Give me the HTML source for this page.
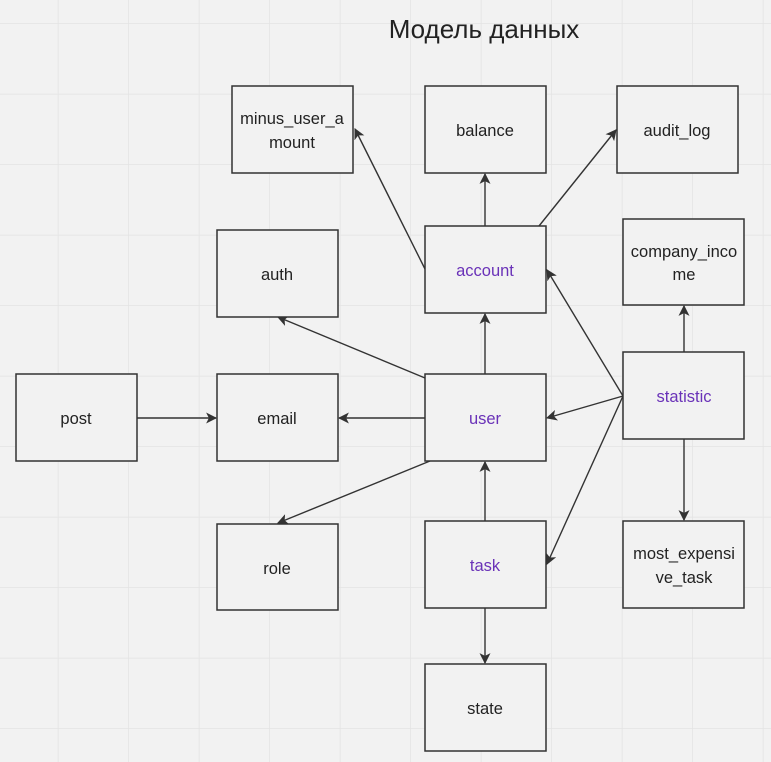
<!DOCTYPE html>
<html><head><meta charset="utf-8"><style>
html,body{margin:0;padding:0;width:771px;height:762px;overflow:hidden;background:#f2f2f2}
svg{display:block}
text{font-family:"Liberation Sans","DejaVu Sans",sans-serif;font-size:16.5px;fill:#222;text-anchor:middle}
.p{fill:#6a32b8}
rect{fill:#f2f2f2;stroke:#333;stroke-width:1.5}
line{stroke:#333;stroke-width:1.4}
</style></head><body>
<svg width="771" height="762" xmlns="http://www.w3.org/2000/svg">
<defs>
<pattern id="g" x="-12" y="-46.5" width="70.5" height="70.5" patternUnits="userSpaceOnUse">
<path d="M70.5 0V70.5M0 70.5H70.5" fill="none" stroke="#e3e3e3" stroke-width="1.5"/>
</pattern>
<marker id="a" viewBox="0 0 10 10" refX="9" refY="5" markerWidth="11" markerHeight="11" orient="auto" markerUnits="userSpaceOnUse">
<path d="M0 0L10 5L0 10L2.5 5Z" fill="#333"/>
</marker>
</defs>
<rect x="0" y="0" width="771" height="762" style="stroke:none;fill:url(#g)"/>
<text x="484" y="38" style="font-size:26px">Модель данных</text>

<g>
<line x1="485" y1="226" x2="485" y2="174" marker-end="url(#a)"/>
<line x1="539" y1="226" x2="616" y2="130" marker-end="url(#a)"/>
<line x1="425" y1="269" x2="355" y2="129" marker-end="url(#a)"/>
<line x1="485" y1="374" x2="485" y2="314" marker-end="url(#a)"/>
<line x1="425" y1="378" x2="278" y2="317" marker-end="url(#a)"/>
<line x1="425" y1="418" x2="339" y2="418" marker-end="url(#a)"/>
<line x1="137" y1="418" x2="216" y2="418" marker-end="url(#a)"/>
<line x1="430" y1="461" x2="278" y2="523" marker-end="url(#a)"/>
<line x1="485" y1="521" x2="485" y2="462" marker-end="url(#a)"/>
<line x1="485" y1="608" x2="485" y2="663" marker-end="url(#a)"/>
<line x1="623" y1="396" x2="547" y2="270" marker-end="url(#a)"/>
<line x1="623" y1="396" x2="547" y2="418" marker-end="url(#a)"/>
<line x1="623" y1="396" x2="547" y2="564" marker-end="url(#a)"/>
<line x1="684" y1="352" x2="684" y2="306" marker-end="url(#a)"/>
<line x1="684" y1="439" x2="684" y2="520" marker-end="url(#a)"/>
</g>

<rect x="232" y="86" width="121" height="87"/><text x="292" y="124">minus_user_a</text><text x="292" y="148">mount</text>
<rect x="425" y="86" width="121" height="87"/><text x="485" y="136">balance</text>
<rect x="617" y="86" width="121" height="87"/><text x="677" y="136">audit_log</text>
<rect x="217" y="230" width="121" height="87"/><text x="277" y="280">auth</text>
<rect x="425" y="226" width="121" height="87"/><text class="p" x="485" y="276">account</text>
<rect x="623" y="219" width="121" height="86"/><text x="684" y="257">company_inco</text><text x="684" y="280">me</text>
<rect x="16" y="374" width="121" height="87"/><text x="76" y="424">post</text>
<rect x="217" y="374" width="121" height="87"/><text x="277" y="424">email</text>
<rect x="425" y="374" width="121" height="87"/><text class="p" x="485" y="424">user</text>
<rect x="623" y="352" width="121" height="87"/><text class="p" x="684" y="402">statistic</text>
<rect x="217" y="524" width="121" height="86"/><text x="277" y="574">role</text>
<rect x="425" y="521" width="121" height="87"/><text class="p" x="485" y="571">task</text>
<rect x="623" y="521" width="121" height="87"/><text x="684" y="559">most_expensi</text><text x="684" y="583">ve_task</text>
<rect x="425" y="664" width="121" height="87"/><text x="485" y="714">state</text>
</svg>
</body></html>
